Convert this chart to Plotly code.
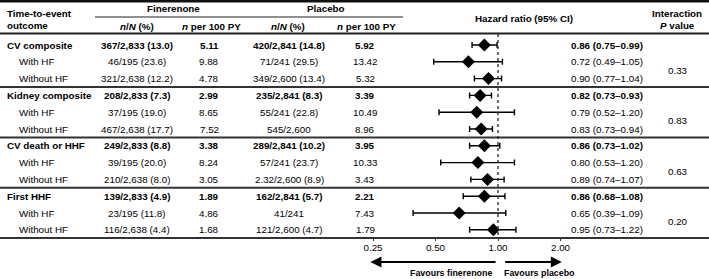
import math
import plotly.graph_objects as go

# ---------------- data ----------------
outcomes = ["CV composite", "Kidney composite", "CV death or HHF", "First HHF"]
subgroups = ["With HF", "Without HF"]

fin_nN = ["367/2,833 (13.0)", "46/195 (23.6)", "321/2,638 (12.2)",
          "208/2,833 (7.3)", "37/195 (19.0)", "467/2,638 (17.7)",
          "249/2,833 (8.8)", "39/195 (20.0)", "210/2,638 (8.0)",
          "139/2,833 (4.9)", "23/195 (11.8)", "116/2,638 (4.4)"]
fin_rate = ["5.11", "9.88", "4.78",
            "2.99", "8.65", "7.52",
            "3.38", "8.24", "3.05",
            "1.89", "4.86", "1.68"]
pla_nN = ["420/2,841 (14.8)", "71/241 (29.5)", "349/2,600 (13.4)",
          "235/2,841 (8.3)", "55/241 (22.8)", "545/2,600",
          "289/2,841 (10.2)", "57/241 (23.7)", "2.32/2,600 (8.9)",
          "162/2,841 (5.7)", "41/241", "121/2,600 (4.7)"]
pla_rate = ["5.92", "13.42", "5.32",
            "3.39", "10.49", "8.96",
            "3.95", "10.33", "3.43",
            "2.21", "7.43", "1.79"]
hr = [0.86, 0.72, 0.90, 0.82, 0.79, 0.83, 0.86, 0.80, 0.89, 0.86, 0.65, 0.95]
lo = [0.75, 0.49, 0.77, 0.73, 0.52, 0.73, 0.73, 0.53, 0.74, 0.68, 0.39, 0.73]
hi = [0.99, 1.05, 1.04, 0.93, 1.20, 0.94, 1.02, 1.20, 1.07, 1.08, 1.09, 1.22]
p_interaction = ["0.33", "0.83", "0.63", "0.20"]
tick_vals = [0.25, 0.5, 1.0, 2.0]
tick_text = ["0.25", "0.50", "1.00", "2.00"]

# ---------------- layout helpers ----------------
W, H = 709, 279
ROW0, ROWH = 45, 16.8          # pixel centre of first row, row pitch
PX_PER_DOUBLING = 62.5
X_REF_PX, X_REF_VAL = 498, 1.0  # pixel of HR = 1
FONT = "Arial, 'Liberation Sans', Helvetica, sans-serif"
FS = 9.8
TXT = "#000000"
LINE = "#333333"


def ry(py):
    return (py - ROW0) / ROWH


def xp(px):
    return px / W


ppd = PX_PER_DOUBLING / math.log10(2)
x_lo = math.log10(X_REF_VAL) - X_REF_PX / ppd
x_hi = math.log10(X_REF_VAL) + (W - X_REF_PX) / ppd

labels, bold = [], []
for o in outcomes:
    labels.append(o)
    bold.append(True)
    for s in subgroups:
        labels.append(s)
        bold.append(False)
rows = list(range(len(labels)))

fig = go.Figure()
fig.add_trace(go.Scatter(
    x=hr, y=rows, mode="markers",
    marker=dict(symbol="diamond", size=10, color="black"),
    error_x=dict(type="data", symmetric=False,
                 array=[h - m for h, m in zip(hi, hr)],
                 arrayminus=[m - l for m, l in zip(hr, lo)],
                 color="black", thickness=1.4, width=3),
    hoverinfo="skip", showlegend=False, cliponaxis=False))

ann = []


def txt(x_px, y, text, anchor="center", size=FS, b=False):
    if b:
        text = "<b>" + text + "</b>"
    ann.append(dict(x=xp(x_px), y=y, xref="paper", yref="y", text=text,
                    showarrow=False, xanchor=anchor, yanchor="middle",
                    font=dict(family=FONT, size=size, color=TXT)))


# header
txt(5, ry(13), "Time-to-event", "left", b=True)
txt(5, ry(25), "outcome", "left", b=True)
txt(173, ry(8.5), "Finerenone", b=True)
txt(326, ry(8.5), "Placebo", b=True)
for cx in (137, 288):
    txt(cx, ry(26), "<i>n</i>/<i>N</i> (%)", b=True)
for cx in (212, 366):
    txt(cx, ry(26), "<i>n</i> per 100 PY", b=True)
txt(524, ry(18), "Hazard ratio (95% CI)", b=True)
txt(677, ry(13), "Interaction", b=True)
txt(677, ry(25), "<i>P</i> value", b=True)

# body
for i, r in enumerate(rows):
    b = bold[i]
    txt(5 if b else 17, r, labels[i], "left", b=b)
    txt(137, r, fin_nN[i], b=b)
    txt(209, r, fin_rate[i], b=b)
    txt(289, r, pla_nN[i], b=b)
    txt(365, r, pla_rate[i], b=b)
    txt(569, r, f"{hr[i]:.2f} ({lo[i]:.2f}\u2013{hi[i]:.2f})", "left", b=b)
for g, p in enumerate(p_interaction):
    txt(678, 3 * g + 1.5, p)

# favours labels
txt(494, ry(273), "Favours finerenone", "right", size=8.9, b=True)
txt(502, ry(273), "Favours placebo", "left", size=8.9, b=True)

# arrows (annotation positions on log axes are in log10 units)
y_arrow = ry(262)
ann.append(dict(x=math.log10(0.243), y=y_arrow, ax=math.log10(0.99), ay=y_arrow,
                xref="x", yref="y", axref="x", ayref="y", text="",
                showarrow=True, arrowhead=2, arrowsize=1.1, arrowwidth=2,
                arrowcolor="black", standoff=0, startstandoff=0))
ann.append(dict(x=math.log10(2.03), y=y_arrow, ax=math.log10(1.065), ay=y_arrow,
                xref="x", yref="y", axref="x", ayref="y", text="",
                showarrow=True, arrowhead=2, arrowsize=1.1, arrowwidth=2,
                arrowcolor="black", standoff=0, startstandoff=0))

shapes = []


def hline(y, x0=0, x1=W, color=LINE, width=2):
    shapes.append(dict(type="line", xref="paper", yref="y", x0=xp(x0), x1=xp(x1),
                       y0=y, y1=y, line=dict(color=color, width=width)))


hline(ry(1.2), color="#111", width=2.4)
hline(ry(17), 95, 403, color="#222", width=1.2)
hline(ry(33.5), color="#222", width=2)
for g in range(1, len(outcomes)):
    hline(3 * g - 0.5, color=LINE, width=2)

# reference line at HR = 1 (shape x on log axes is in data units)
shapes.append(dict(type="line", xref="x", yref="y", x0=1, x1=1,
                   y0=ry(34), y1=ry(238), line=dict(color="#333", width=1.4, dash="dot")))

fig.update_layout(
    width=W, height=H, margin=dict(l=0, r=0, t=0, b=0),
    paper_bgcolor="white", plot_bgcolor="white",
    annotations=ann, shapes=shapes, showlegend=False,
    xaxis=dict(type="log", range=[x_lo, x_hi], domain=[0, 1],
               anchor="free", position=(H - 238) / H,
               showline=True, linecolor=LINE, linewidth=2,
               ticks="outside", ticklen=2, tickwidth=1, tickcolor=LINE,
               ticklabelstandoff=-2,
               tickvals=tick_vals, ticktext=tick_text,
               tickfont=dict(family=FONT, size=FS, color=TXT),
               showgrid=False, zeroline=False, fixedrange=True),
    yaxis=dict(range=[ry(H), ry(0)], visible=False, showgrid=False,
               zeroline=False, fixedrange=True),
)

fig.write_html("out.html", config={"displayModeBar": False},
               post_script="document.body.style.margin='0';document.body.style.padding='0';")
